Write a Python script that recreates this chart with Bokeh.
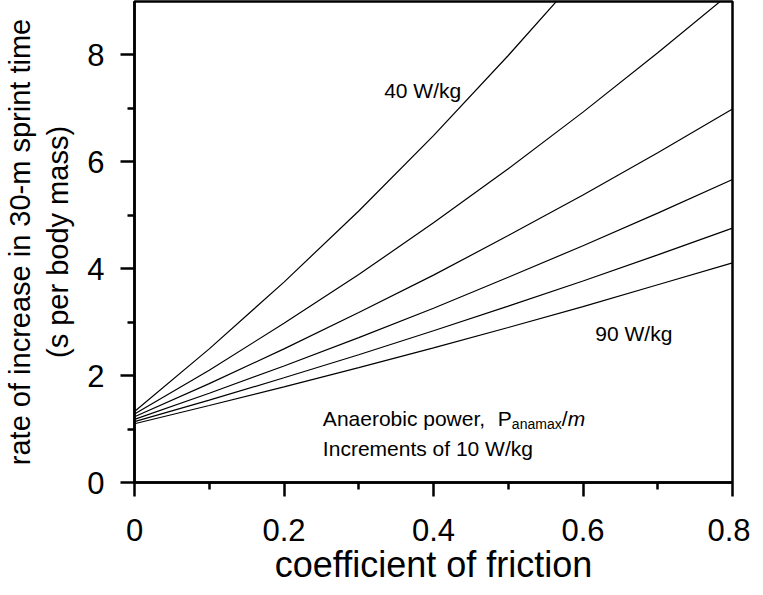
from bokeh.plotting import figure
from bokeh.models import Range1d, FixedTicker, CustomJSTickFormatter
from bokeh.core.properties import value
from bokeh.embed import file_html
from bokeh.resources import INLINE

# ---- data ----
friction = [0.0, 0.1, 0.2, 0.3, 0.4, 0.5, 0.6, 0.7, 0.8]
p40 = [1.33, 2.50, 3.75, 5.08, 6.49, 7.99, 9.56]
p50 = [1.28, 2.10, 2.98, 3.89, 4.86, 5.87, 6.93, 8.04, 9.19]
p60 = [1.23, 1.85, 2.50, 3.18, 3.88, 4.62, 5.38, 6.17, 6.99]
p70 = [1.18, 1.67, 2.18, 2.71, 3.26, 3.84, 4.43, 5.04, 5.67]
p80 = [1.14, 1.54, 1.96, 2.39, 2.84, 3.30, 3.77, 4.26, 4.76]
p90 = [1.10, 1.44, 1.79, 2.15, 2.52, 2.90, 3.29, 3.70, 4.11]
series = [p40, p50, p60, p70, p80, p90]

x_major = [0, 0.2, 0.4, 0.6, 0.8]
x_minor = [0.1, 0.3, 0.5, 0.7]
y_major = [0, 2, 4, 6, 8]
y_minor = [1, 3, 5, 7]

FONT = "Liberation Sans"

p = figure(width=750, height=587, output_backend="svg", toolbar_location=None,
           x_range=Range1d(0, 0.8), y_range=Range1d(0, 9.0),
           min_border_left=129, min_border_right=18, min_border_top=1,
           min_border_bottom=104)
p.grid.visible = False
p.background_fill_color = "white"
p.border_fill_color = "white"
p.outline_line_color = "black"
p.outline_line_width = 2.5
p.outline_line_alpha = 1.0

for ax in (p.xaxis[0], p.yaxis[0]):
    ax.axis_line_width = 2.5
    ax.major_tick_line_width = 2.5
    ax.minor_tick_line_width = 2.5
    ax.major_tick_in = 0
    ax.minor_tick_in = 0
    ax.major_tick_out = 14
    ax.minor_tick_out = 7
    ax.major_label_text_font = FONT
    ax.major_label_text_font_size = "31px"
    ax.major_label_text_color = "black"
    ax.axis_label_text_font = FONT
    ax.axis_label_text_font_style = "normal"
    ax.axis_label_text_color = "black"

p.yaxis.axis_label_text_font_size = "29px"
p.xaxis.axis_label_text_font_size = "36px"
p.xaxis.ticker = FixedTicker(ticks=x_major, minor_ticks=x_minor)
p.yaxis.ticker = FixedTicker(ticks=y_major, minor_ticks=y_minor)
p.xaxis.formatter = CustomJSTickFormatter(code="return String(Math.round(tick*10)/10);")
p.xaxis.axis_label = "coefficient of friction"
p.yaxis.axis_label = "rate of increase in 30-m sprint time\n(s per body mass)"
p.xaxis.major_label_standoff = 22
p.xaxis.axis_label_standoff = 0
p.yaxis.major_label_standoff = 16
p.yaxis.axis_label_standoff = 10

for ys in series:
    p.line(friction[:len(ys)], ys, line_color="black", line_width=1.2)

# annotations
p.text(x=[0.334], y=[7.34], text=["40 W/kg"], text_font=value(FONT),
       text_font_size="21px", text_baseline="alphabetic", text_color="black")
p.text(x=[0.6165], y=[2.78], text=["90 W/kg"], text_font=value(FONT),
       text_font_size="21px", text_baseline="alphabetic", text_color="black")

ax0 = 0.252
p.text(x=[ax0], y=[1.19], text=["Anaerobic power,"], text_font=value(FONT),
       text_font_size="21px", text_baseline="alphabetic", text_color="black")
p.text(x=[ax0], y=[1.19], text=["P"], x_offset=175, text_font=value(FONT),
       text_font_size="21px", text_baseline="alphabetic", text_color="black")
p.text(x=[ax0], y=[1.09], text=["anamax"], x_offset=189, text_font=value(FONT),
       text_font_size="14px", text_baseline="alphabetic", text_color="black")
p.text(x=[ax0], y=[1.19], text=["/"], x_offset=239, text_font=value(FONT),
       text_font_size="21px", text_baseline="alphabetic", text_color="black")
p.text(x=[ax0], y=[1.19], text=["m"], x_offset=245, text_font=value(FONT),
       text_font_size="21px", text_font_style="italic", text_baseline="alphabetic",
       text_color="black")
p.text(x=[ax0], y=[0.63], text=["Increments of 10 W/kg"], text_font=value(FONT),
       text_font_size="21px", text_baseline="alphabetic", text_color="black")

open("out.html", "w").write(file_html(p, INLINE))
